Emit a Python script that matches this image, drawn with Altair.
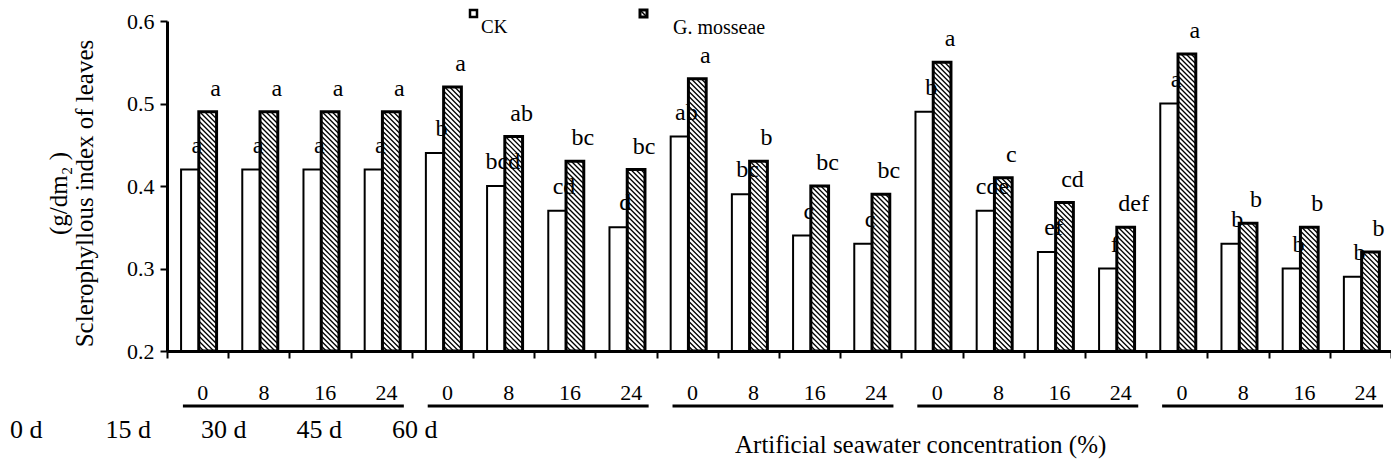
import altair as alt
import pandas as pd

# ---------------- data ----------------
days = ["0 d", "15 d", "30 d", "45 d", "60 d"]
concentrations = ["0", "8", "16", "24"]
series_names = ["CK", "G. mosseae"]
ck_values = [0.42, 0.42, 0.42, 0.42,
             0.44, 0.40, 0.37, 0.35,
             0.46, 0.39, 0.34, 0.33,
             0.49, 0.37, 0.32, 0.30,
             0.50, 0.33, 0.30, 0.29]
gm_values = [0.49, 0.49, 0.49, 0.49,
             0.52, 0.46, 0.43, 0.42,
             0.53, 0.43, 0.40, 0.39,
             0.55, 0.41, 0.38, 0.35,
             0.56, 0.355, 0.35, 0.32]
ck_letters = ["a", "a", "a", "a",
              "b", "bcd", "cd", "d",
              "ab", "bc", "c", "c",
              "b", "cde", "ef", "f",
              "a", "b", "b", "b"]
gm_letters = ["a", "a", "a", "a",
              "a", "ab", "bc", "bc",
              "a", "b", "bc", "bc",
              "a", "c", "cd", "def",
              "a", "b", "b", "b"]
y_ticks = [0.2, 0.3, 0.4, 0.5, 0.6]

# ---------------- layout ----------------
W, H = 1224, 330
Y0, Y1 = 0.2, 0.6
NSLOT = len(ck_values)
FONT = "'Liberation Serif', 'Times New Roman', Times, 'DejaVu Serif', serif"
CK_L, MID, GM_R = 0.23, 0.52, 0.81   # bar edges inside a slot (slot units)

rows = []
for i in range(NSLOT):
    rows.append(dict(slot=i, conc=concentrations[i % 4], ck=ck_values[i], gm=gm_values[i],
                     ckl=ck_letters[i], gml=gm_letters[i]))
df = pd.DataFrame(rows)
df["ck_x0"] = df.slot + CK_L
df["mid"] = df.slot + MID
df["gm_x1"] = df.slot + GM_R
df["gm_c"] = df.slot + (MID + GM_R) / 2
df["pair_c"] = df.slot + (CK_L + GM_R) / 2
df["base"] = Y0

# hatch lines (decoration) inside the G. mosseae bars, derived from the bar tops
px_y = H / (Y1 - Y0)
px_x = W / NSLOT
drop = (GM_R - MID) * px_x / px_y
step = 5.0 / px_y
hatch = []
for i, top in enumerate(gm_values):
    xl, xr = i + MID, i + GM_R
    k = 0
    while True:
        y0 = Y0 + k * step
        if y0 >= top + drop:
            break
        ta = max(0.0, (y0 - top) / drop)
        tb = min(1.0, (y0 - Y0) / drop)
        if tb > ta:
            hatch.append(dict(hx=xl + ta * (xr - xl), hx2=xl + tb * (xr - xl),
                              hy=y0 - ta * drop, hy2=y0 - tb * drop))
        k += 1
hdf = pd.DataFrame(hatch)

groups = pd.DataFrame(dict(g=list(range(len(days)))))
groups["x0"] = groups.g * 4 + 0.26
groups["x1"] = groups.g * 4 + 3.87

day_df = pd.DataFrame(dict(day=days, i=list(range(len(days)))))
day_df["px"] = 10 - 167 + day_df.i * 95.5

xscale = alt.Scale(domain=[0, NSLOT], nice=False, zero=False)
yscale = alt.Scale(domain=[Y0, Y1], nice=False, zero=False)

x_axis = alt.Axis(values=list(range(NSLOT + 1)), labels=False, tickSize=7, tickWidth=2,
                  domainWidth=3, domainColor="black", tickColor="black", grid=False, title=None)
y_axis = alt.Axis(values=y_ticks, format=".1f", tickSize=7, tickWidth=2, domainWidth=3,
                  domainColor="black", tickColor="black", grid=False,
                  labelFont=FONT, labelFontSize=22, labelColor="black", labelPadding=6,
                  title=["(g/dm\u2082 )", "Sclerophyllous index of leaves"],
                  titleFont=FONT, titleFontSize=25, titleFontWeight="normal",
                  titleColor="black", titlePadding=29, titleLineHeight=26, titleY=172)


def X(f):
    return alt.X(f, type="quantitative", scale=xscale, axis=x_axis)


def Yq(f):
    return alt.Y(f, type="quantitative", scale=yscale, axis=y_axis)


base = alt.Chart(df)

ck_bars = base.mark_rect(fill="white", stroke="black", strokeWidth=2).encode(
    x=X("ck_x0"), x2="mid", y=Yq("ck"), y2="base")

hatch_lines = alt.Chart(hdf).mark_rule(color="black", strokeWidth=1.3).encode(
    x=X("hx"), x2="hx2", y=Yq("hy"), y2="hy2")

gm_bars = base.mark_rect(fill="white", fillOpacity=0, stroke="black", strokeWidth=3).encode(
    x=X("mid"), x2="gm_x1", y=Yq("gm"), y2="base")

ck_text = base.mark_text(font=FONT, fontSize=24, baseline="alphabetic", align="center",
                         dx=-2, dy=-17, color="black").encode(
    x=X("mid"), y=Yq("ck"), text="ckl")

gm_text = base.mark_text(font=FONT, fontSize=24, baseline="alphabetic", align="center",
                         dx=8, dy=-16, color="black").encode(
    x=X("gm_c"), y=Yq("gm"), text="gml")

conc_text = base.mark_text(font=FONT, fontSize=22, baseline="alphabetic", align="center",
                           dx=4, color="black").encode(
    x=X("pair_c"), y=alt.value(379), text="conc")

underline = alt.Chart(groups).mark_rule(color="black", strokeWidth=3).encode(
    x=X("x0"), x2="x1", y=alt.value(385))

day_text = alt.Chart(day_df).mark_text(font=FONT, fontSize=26, baseline="alphabetic",
                                       align="left", color="black").encode(
    x=alt.X("px:Q", scale=None), y=alt.value(417), text="day")

xtitle = alt.Chart(pd.DataFrame(dict(t=["Artificial seawater concentration (%)"]))).mark_text(
    font=FONT, fontSize=25, baseline="alphabetic", align="left", color="black").encode(
    x=alt.value(568), y=alt.value(432), text="t")

legend_df = pd.DataFrame(dict(name=series_names))
leg_ck_box = alt.Chart(legend_df.iloc[[0]]).mark_rect(fill="white", stroke="black", strokeWidth=2.5).encode(
    x=alt.value(303), x2=alt.value(310), y=alt.value(-11), y2=alt.value(-4))
leg_ck_txt = alt.Chart(legend_df.iloc[[0]]).mark_text(font=FONT, fontSize=19, baseline="alphabetic",
                                                       align="left", color="black").encode(
    x=alt.value(314), y=alt.value(12), text="name")
leg_gm_box = alt.Chart(legend_df.iloc[[1]]).mark_rect(fill="white", stroke="black", strokeWidth=3).encode(
    x=alt.value(473), x2=alt.value(480), y=alt.value(-11), y2=alt.value(-4))
leg_gm_diag = alt.Chart(legend_df.iloc[[1]]).mark_rule(color="black", strokeWidth=1.5).encode(
    x=alt.value(474), x2=alt.value(479), y=alt.value(-10), y2=alt.value(-5))
leg_gm_txt = alt.Chart(legend_df.iloc[[1]]).mark_text(font=FONT, fontSize=20, baseline="alphabetic",
                                                       align="left", color="black").encode(
    x=alt.value(506), y=alt.value(13), text="name")

chart = alt.layer(
    ck_bars, hatch_lines, gm_bars, ck_text, gm_text, conc_text, underline, day_text, xtitle,
    leg_ck_box, leg_ck_txt, leg_gm_box, leg_gm_diag, leg_gm_txt
).properties(
    width=W, height=H,
    autosize=alt.AutoSizeParams(type="none"),
    padding={"left": 159, "top": 13, "right": 0, "bottom": 108},
    background="white",
).configure_view(stroke=None)

chart.save("out.html", embed_options={"renderer": "svg", "actions": False})
